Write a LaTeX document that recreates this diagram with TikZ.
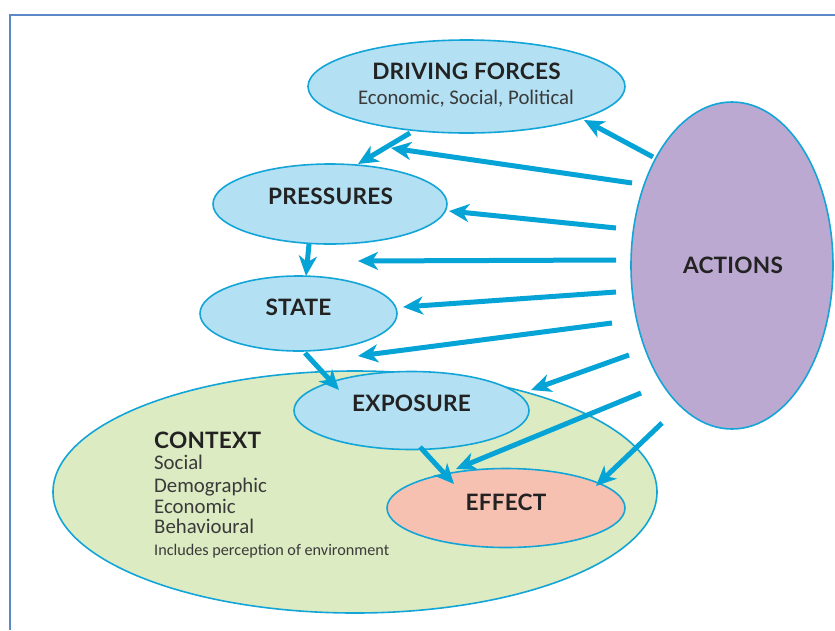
\documentclass[tikz,border=0pt]{standalone}
\usepackage{fontspec}
\setmainfont{Carlito}
\newfontfamily\headfont[LetterSpace=1]{Lato}
\usetikzlibrary{shapes.geometric,arrows.meta}
\definecolor{edgeblue}{HTML}{14A5D8}
\definecolor{arrowblue}{HTML}{05A3D6}
\definecolor{paleblue}{HTML}{B3E0F2}
\definecolor{palegreen}{HTML}{DCEBC2}
\definecolor{palepurple}{HTML}{BCA9D1}
\definecolor{salmon}{HTML}{F7C1B2}
\definecolor{framecol}{HTML}{5C88C9}
\definecolor{inkcol}{HTML}{222222}
\definecolor{bodycol}{HTML}{3A3A3A}
\tikzset{
  oval/.style={ellipse,draw=edgeblue,line width=1.6pt,inner sep=0pt,outer sep=0pt},
  flow/.style={draw=arrowblue,line width=5pt,-{Stealth[length=20pt,width=18pt,inset=6pt]}},
  head/.style={font=\headfont\bfseries\fontsize{22.6}{26}\selectfont,text=inkcol,inner sep=0pt,anchor=base},
  body/.style={font=\fontsize{20.8}{24}\selectfont,text=bodycol,inner sep=0pt,anchor=base},
  leftbody/.style={body,anchor=base west},
}
\begin{document}
\begin{tikzpicture}[x=1pt,y=-1pt]
\useasboundingbox (0,0) rectangle (835,630);
\fill[white] (0,0) rectangle (835,630);
\draw[framecol,line width=2pt] (10,630) -- (10,14.5) -- (835,14.5);
% ovals
\node[oval,fill=palegreen,minimum width=604pt,minimum height=242pt] (context) at (355,492) {};
\node[oval,fill=paleblue,minimum width=317pt,minimum height=93pt] (driving) at (466.5,86.5) {};
\node[oval,fill=paleblue,minimum width=234pt,minimum height=80pt] (pressures) at (330,204) {};
\node[oval,fill=paleblue,minimum width=197pt,minimum height=75pt] (state) at (298.5,313.5) {};
\node[oval,fill=paleblue,minimum width=235pt,minimum height=78pt] (exposure) at (411.5,410.5) {};
\node[oval,fill=salmon,minimum width=238pt,minimum height=79pt] (effect) at (506,508) {};
\node[oval,fill=palepurple,minimum width=202pt,minimum height=327pt] (actions) at (732,265.5) {};
% labels
\node[head] (tdriving) at (466.5,79) {DRIVING FORCES};
\node[body] (tdrivingsub) at (466,104) {Economic, Social, Political};
\node[head] (tpressures) at (330.5,204) {PRESSURES};
\node[head] (tstate) at (298.5,315) {STATE};
\node[head] (texposure) at (411.5,411.5) {EXPOSURE};
\node[head] (teffect) at (506,510.5) {EFFECT};
\node[head] (tactions) at (733,273) {ACTIONS};
\node[head,anchor=base west] (tcontext) at (154,448.5) {CONTEXT};
\node[leftbody] (tsocial) at (154,469.5) {Social};
\node[leftbody] (tdemo) at (154,492) {Demographic};
\node[leftbody] (tecon) at (154,513) {Economic};
\node[leftbody] (tbehav) at (154,533.5) {Behavioural};
\node[leftbody,font=\fontsize{16.2}{19}\selectfont] (tincl) at (154,555) {Includes perception of environment};
% free ends
\coordinate (dp1) at (410,133);
\coordinate (dp2) at (358,164);
\coordinate (ps1) at (309,244);
\coordinate (ps2) at (306,276);
\coordinate (se1) at (305,353);
\coordinate (se2) at (339,390);
\coordinate (ee1) at (420,447);
\coordinate (ee2) at (454,484);
\coordinate (a1s) at (653,157);
\coordinate (a1e) at (584,120);
\coordinate (a2s) at (632,183);
\coordinate (a2e) at (391,148);
\coordinate (a3s) at (616,228);
\coordinate (a3e) at (449,211);
\coordinate (a4s) at (616,260);
\coordinate (a4e) at (358,261);
\coordinate (a5s) at (616,292);
\coordinate (a5e) at (403,307);
\coordinate (a6s) at (612,323);
\coordinate (a6e) at (358,356);
\coordinate (a7s) at (629,355);
\coordinate (a7e) at (531,390);
\coordinate (a8s) at (641,393);
\coordinate (a8e) at (456,469);
\coordinate (a9s) at (662,423);
\coordinate (a9e) at (596,486);
% connectors
\draw[flow] (dp1) -- (dp2);
\draw[flow] (ps1) -- (ps2);
\draw[flow] (se1) -- (se2);
\draw[flow] (ee1) -- (ee2);
\draw[flow] (a1s) -- (a1e);
\draw[flow] (a2s) -- (a2e);
\draw[flow] (a3s) -- (a3e);
\draw[flow] (a4s) -- (a4e);
\draw[flow] (a5s) -- (a5e);
\draw[flow] (a6s) -- (a6e);
\draw[flow] (a7s) -- (a7e);
\draw[flow] (a8s) -- (a8e);
\draw[flow] (a9s) -- (a9e);
\end{tikzpicture}
\end{document}
